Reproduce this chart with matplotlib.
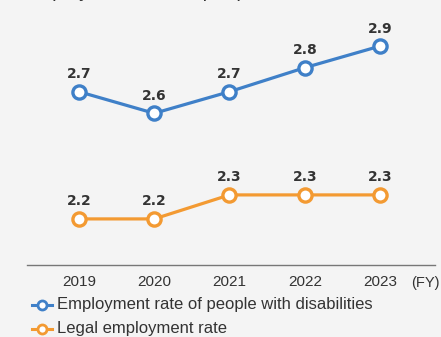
import matplotlib
matplotlib.use("Agg")
import matplotlib.pyplot as plt
from matplotlib.lines import Line2D

plt.rcParams['font.family'] = ['Liberation Sans', 'DejaVu Sans']

years = ["2019", "2020", "2021", "2022", "2023"]
disability_rate = [2.73, 2.64, 2.73, 2.83, 2.92]
legal_rate = [2.2, 2.2, 2.3, 2.3, 2.3]
series_names = ["Employment rate of people with disabilities", "Legal employment rate"]

BLUE = "#3f80c8"
ORANGE = "#f39a32"
TEXT = "#333333"
BG = "#f4f4f4"

W, H = 441, 337
fig = plt.figure(figsize=(W / 100, H / 100), dpi=100, facecolor=BG)


def fx(px):
    return px / W


def fy(py):
    return 1 - py / H


# plotting area: left 27, right 435, top 0, bottom 265 (pixels)
ax = fig.add_axes([fx(27), fy(265), fx(435 - 27), 265 / H], facecolor=BG)
x = list(range(len(years)))
ax.set_xlim(-0.69, 4.73)
ax.set_ylim(2.008, 3.112)

for vals, color in [(disability_rate, BLUE), (legal_rate, ORANGE)]:
    ax.plot(x, vals, color=color, lw=2.3, marker="o", ms=9.5,
            mfc="white", mec=color, mew=2.4, solid_capstyle="round", zorder=3)
    for xi, v in zip(x, vals):
        ax.annotate(f"{v:.1f}", (xi, v), xytext=(0, 7.5), textcoords="offset points",
                    ha="center", va="bottom", fontsize=10, fontweight="bold",
                    family="DejaVu Sans", color=TEXT)

for s in ["top", "right", "left"]:
    ax.spines[s].set_visible(False)
ax.spines["bottom"].set_color("#777777")
ax.spines["bottom"].set_linewidth(1.0)
ax.set_yticks([])
ax.set_xticks(x)
ax.set_xticklabels(years, fontsize=11, color=TEXT)
ax.tick_params(axis="x", length=0, pad=7)
fig.text(fx(411), fy(283), "(FY)", ha="left", va="center", fontsize=10.5, color=TEXT)

# heading above the plot, running off the top edge
fig.text(fx(22), fy(-3), "Employment rate of people with disabilities", ha="left",
         va="baseline", fontsize=14.5, color=TEXT)

# legend drawn by hand: short line with an open marker, then the label
for row_y, name, color in zip([305, 329], series_names, [BLUE, ORANGE]):
    fig.add_artist(Line2D([fx(32), fx(52)], [fy(row_y), fy(row_y)], color=color, lw=2.2,
                          transform=fig.transFigure))
    fig.add_artist(Line2D([fx(42)], [fy(row_y)], marker="o", ms=6.5, mfc="white", mec=color,
                          mew=2.0, transform=fig.transFigure))
    fig.text(fx(57), fy(row_y), name, ha="left", va="center", fontsize=12, color=TEXT)

fig.savefig("out.png", dpi=100, facecolor=BG)
